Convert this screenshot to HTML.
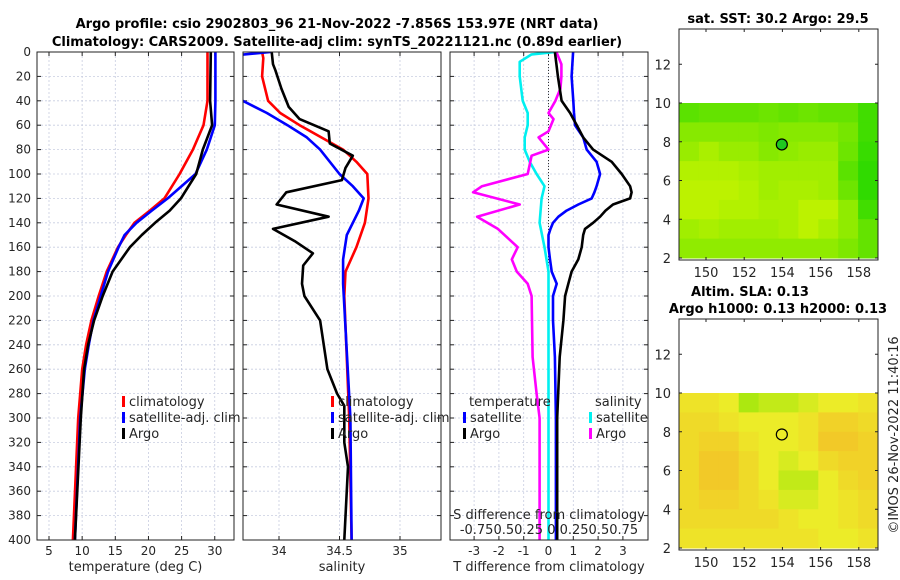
<!DOCTYPE html>
<html><head><meta charset="utf-8"><style>
html,body{margin:0;padding:0;background:#fff;width:900px;height:580px;overflow:hidden}
svg text{font-family:"DejaVu Sans","Liberation Sans",sans-serif;fill:#262626}
</style></head><body>
<svg id="fig" xmlns="http://www.w3.org/2000/svg" width="900" height="580" viewBox="0 0 900 580">
<text x="337" y="28" text-anchor="middle" font-size="13" font-weight="bold" style="fill:#000">Argo profile: csio 2902803_96 21-Nov-2022 -7.856S 153.97E (NRT data)</text>
<text x="337" y="46" text-anchor="middle" font-size="13" font-weight="bold" style="fill:#000">Climatology: CARS2009. Satellite-adj clim: synTS_20221121.nc (0.89d earlier)</text>
<text x="778" y="23" text-anchor="middle" font-size="13" font-weight="bold" style="fill:#000">sat. SST: 30.2 Argo: 29.5</text>
<text x="750" y="296" text-anchor="middle" font-size="13" font-weight="bold" style="fill:#000">Altim. SLA: 0.13</text>
<text x="778" y="313" text-anchor="middle" font-size="13" font-weight="bold" style="fill:#000">Argo h1000: 0.13 h2000: 0.13</text>
<text transform="translate(898,435) rotate(-90)" text-anchor="middle" font-size="13">©IMOS 26-Nov-2022 11:40:16</text>
</svg>
<script>
// ---- data ----
const depthT = [0,40,60,80,100,120,130,140,150,160,180,200,220,240,260,300,400];
const tempClim = [28.9,28.9,28.3,26.7,24.7,22.4,20.2,17.9,16.6,15.4,13.7,12.5,11.4,10.6,10.0,9.4,8.6];
const tempSat  = [30.1,30.1,30.0,28.8,27.1,22.9,20.5,18.2,16.4,15.5,13.9,12.8,11.7,11.0,10.4,9.7,8.9];
const tempArgo = [29.4,29.3,29.6,28.2,27.2,24.9,23.2,21.0,19.0,17.2,14.6,13.1,11.8,10.9,10.3,9.8,8.9];

const depthSC = [0,5,20,40,50,60,80,90,100,120,140,160,180,200,300,400];
const salClim = [33.86,33.87,33.86,33.91,34.01,34.17,34.53,34.64,34.73,34.74,34.71,34.64,34.55,34.54,34.58,34.60];
const depthSS = [0,4,38,40,50,60,70,80,100,110,120,130,150,170,190,300,400];
const salSat  = [33.93,33.5,33.5,33.70,33.90,34.07,34.23,34.34,34.50,34.61,34.70,34.66,34.56,34.53,34.53,34.59,34.60];
const depthSA = [0,10,15,30,45,55,65,75,85,95,105,115,125,135,145,155,165,175,190,200,220,260,280,290,320,340,400];
const salArgo = [33.94,33.95,33.97,34.02,34.08,34.17,34.41,34.42,34.61,34.55,34.52,34.06,33.98,34.41,33.95,34.13,34.28,34.20,34.19,34.21,34.34,34.40,34.48,34.54,34.54,34.57,34.54];

const depthD = [0,20,40,50,60,70,80,90,100,110,115,120,125,130,135,140,145,150,160,170,180,190,200,220,250,300,400];
const dTsat  = [0.99,0.93,1.0,1.03,1.07,1.4,1.54,1.94,2.08,1.94,1.85,1.74,1.2,0.73,0.4,0.18,0.08,0,0,0.06,0.13,0.33,0.18,0.18,0.26,0.3,0.3];
const dTargo = [0.26,0.38,0.53,0.87,1.14,1.4,1.8,2.55,2.95,3.29,3.35,3.29,2.6,2.3,2.08,1.8,1.47,1.4,1.34,1.2,0.93,0.8,0.67,0.6,0.45,0.35,0.35];
const depthDS = [0,2,8,20,40,50,60,70,80,90,100,110,120,140,160,180,200,300,400];
const dSsat  = [0.07,-0.17,-0.29,-0.29,-0.26,-0.21,-0.21,-0.24,-0.24,-0.19,-0.12,-0.04,-0.07,-0.09,-0.04,0,0,0,0];
const depthDA = [0,10,20,30,40,50,55,65,70,80,85,100,110,115,125,135,145,160,170,180,190,200,250,280,300,400];
const dSargo = [0.08,0.13,0.13,0.12,0.07,0,0.05,0,-0.1,0,-0.17,-0.21,-0.67,-0.76,-0.29,-0.72,-0.51,-0.31,-0.37,-0.32,-0.21,-0.17,-0.16,-0.12,-0.09,-0.09];

const depthTicks = [0,20,40,60,80,100,120,140,160,180,200,220,240,260,280,300,320,340,360,380,400];
const tempTicks = [5,10,15,20,25,30];
const salTicks = [34,34.5,35];
const salTickLabels = ["34","34.5","35"];
const diffTicks = [-3,-2,-1,0,1,2,3];
const sDiffLabels = "-0.750.50.25 0 0.250.50.75";
const latTicks = [2,4,6,8,10,12];
const lonTicks = [150,152,154,156,158];
const argoLon = 153.97, argoLat = 7.86;

const sstGrid = [
 [.65,.6,.6,.6,.55,.6,.55,.6,.6,.8],
 [.4,.4,.4,.4,.45,.4,.4,.4,.5,.8],
 [.3,.2,.3,.3,.4,.35,.3,.3,.55,.85],
 [.15,.15,.15,.2,.25,.25,.25,.25,.65,.9],
 [.1,.1,.1,.15,.25,.2,.2,.25,.55,.9],
 [.1,.1,.15,.15,.2,.2,.1,.1,.35,.8],
 [.25,.2,.25,.25,.25,.2,.1,.2,.35,.6],
 [.35,.35,.35,.35,.35,.35,.35,.35,.45,.6]];
const slaGrid = [
 [.6,.6,.5,.2,.3,.3,.4,.5,.5,.6],
 [.7,.7,.6,.5,.5,.5,.6,.8,.8,.7],
 [.7,.8,.8,.6,.5,.5,.6,.9,.9,.8],
 [.7,.9,.9,.7,.5,.4,.5,.7,.8,.8],
 [.7,.9,.9,.7,.5,.3,.3,.5,.7,.8],
 [.7,.8,.8,.7,.6,.4,.4,.5,.6,.7],
 [.7,.7,.7,.7,.7,.6,.5,.5,.6,.7],
 [.6,.6,.6,.6,.6,.6,.6,.5,.5,.6]];

// ---- helpers ----
const NS="http://www.w3.org/2000/svg";
const svg=document.getElementById('fig');
function mk(tag,attrs,parent){const e=document.createElementNS(NS,tag);for(const k in attrs)e.setAttribute(k,attrs[k]);(parent||svg).appendChild(e);return e;}
const Y0=52, Y1=540;
const yD=d=>Y0+(d/400)*(Y1-Y0);

function panel(name,x0,x1,xs,ticks,labels,xlabel){
  const g=mk('g',{});
  
  
  const clipId=name+'-clip';
  const cp=mk('clipPath',{id:clipId},g);mk('rect',{x:x0,y:Y0,width:x1-x0,height:Y1-Y0},cp);
  depthTicks.forEach(d=>{mk('line',{x1:x0,x2:x1,y1:yD(d),y2:yD(d),stroke:'#c8cde0','stroke-width':0.8,'stroke-dasharray':'2,2'},g);
    mk('line',{x1:x0,x2:x0+4,y1:yD(d),y2:yD(d),stroke:'#222'},g);mk('line',{x1:x1-4,x2:x1,y1:yD(d),y2:yD(d),stroke:'#222'},g);});
  ticks.forEach((t,i)=>{const x=xs(t);mk('line',{x1:x,x2:x,y1:Y0,y2:Y1,stroke:'#c8cde0','stroke-width':0.8,'stroke-dasharray':'2,2'},g);
    mk('line',{x1:x,x2:x,y1:Y1-4,y2:Y1,stroke:'#222'},g);mk('line',{x1:x,x2:x,y1:Y0,y2:Y0+4,stroke:'#222'},g);
    const tl=mk('text',{x:x,y:555,'text-anchor':'middle','font-size':12},g);tl.textContent=labels[i];
    
    });
  const xl=mk('text',{x:(x0+x1)/2,y:571,'text-anchor':'middle','font-size':13},g);xl.textContent=xlabel;
  
  
  return {g,clip:'url(#'+clipId+')',x0,x1};
}
function series(p,name,depths,vals,xs,color){
  const pts=depths.map((d,i)=>xs(vals[i]).toFixed(1)+','+yD(d).toFixed(1)).join(' ');
  const l=mk('polyline',{points:pts,fill:'none',stroke:color,'stroke-width':2.6,'stroke-linejoin':'round','clip-path':p.clip},p.g);
  
  
}
function frame(p){mk('rect',{x:p.x0,y:Y0,width:p.x1-p.x0,height:Y1-Y0,fill:'none',stroke:'#222','stroke-width':1},p.g);}
function legend(p,x,y,color,label){
  mk('rect',{x:x,y:y-10,width:3,height:11,fill:color},p.g);
  const t=mk('text',{x:x+7,y:y,'font-size':13},p.g);t.textContent=label;
  
  
}

// depth labels
depthTicks.forEach(d=>{const t=mk('text',{x:31,y:yD(d)+4,'text-anchor':'end','font-size':12});t.textContent=d;
  
  });

// panel 1
const xT=t=>49+(t-5)*6.63;
const p1=panel('temperature-panel',37,234,xT,tempTicks,tempTicks.map(String),'temperature (deg C)');
series(p1,'temp-climatology-line',depthT,tempClim,xT,'#ff0000');
series(p1,'temp-satellite-line',depthT,tempSat,xT,'#0000ff');
series(p1,'temp-argo-line',depthT,tempArgo,xT,'#000000');
frame(p1);
legend(p1,122,406,'#ff0000','climatology');legend(p1,122,422,'#0000ff','satellite-adj. clim');legend(p1,122,438,'#000','Argo');

// panel 2
const xS=s=>279+(s-34)*121;
const p2=panel('salinity-panel',243,441,xS,salTicks,salTickLabels,'salinity');
series(p2,'sal-climatology-line',depthSC,salClim,xS,'#ff0000');
series(p2,'sal-satellite-line',depthSS,salSat,xS,'#0000ff');
series(p2,'sal-argo-line',depthSA,salArgo,xS,'#000000');
frame(p2);
legend(p2,331,406,'#ff0000','climatology');legend(p2,331,422,'#0000ff','satellite-adj. clim');legend(p2,331,438,'#000','Argo');

// panel 3
const xDT=t=>548.5+t*24.8;
const xDS=s=>548.5+s*99.2;
const p3=panel('difference-panel',450,648,xDT,diffTicks,diffTicks.map(String),'T difference from climatology');
mk('line',{x1:xDT(0),x2:xDT(0),y1:Y0,y2:Y1,stroke:'#333','stroke-width':1,'stroke-dasharray':'1,2'},p3.g);
series(p3,'sdiff-satellite-line',depthDS,dSsat,xDS,'#00f0f0');
series(p3,'sdiff-argo-line',depthDA,dSargo,xDS,'#ff00ff');
series(p3,'tdiff-satellite-line',depthD,dTsat,xDT,'#0000ff');
series(p3,'tdiff-argo-line',depthD,dTargo,xDT,'#000000');
frame(p3);
{const t=mk('text',{x:469,y:406,'font-size':13},p3.g);t.textContent='temperature';
 const t2=mk('text',{x:595,y:406,'font-size':13},p3.g);t2.textContent='salinity';}
legend(p3,463,422,'#0000ff','satellite');legend(p3,463,438,'#000','Argo');
legend(p3,589,422,'#00f0f0','satellite');legend(p3,589,438,'#ff00ff','Argo');
{const t=mk('text',{x:549,y:519,'text-anchor':'middle','font-size':13},p3.g);t.textContent='S difference from climatology';
 
 
 const t2=mk('text',{x:549,y:534,'text-anchor':'middle','font-size':13},p3.g);t2.textContent=sDiffLabels;
 
 }

// maps
function lerp(a,b,t){return Math.round(a+(b-a)*t);}
function sstColor(v){return `rgb(${lerp(205,30,v)},${lerp(245,215,v)},0)`;}
function slaColor(v){ if(v<0.5){const t=v/0.5;return `rgb(${lerp(130,236,t)},${lerp(230,236,t)},${lerp(0,40,t)})`;}
  const t=(v-0.5)/0.5;return `rgb(${lerp(236,244,t)},${lerp(236,192,t)},${lerp(40,40,t)})`;}
function map(name,top,bottom,y10,grid,colorFn,fillDot){
  const g=mk('g',{});
  
  
  const x0=679,x1=878;
  const yL=lat=>bottom-2-(lat-2)*((bottom-2-y10)/8);
  const xL=lon=>706+(lon-150)*19.1;
  const lonW=(x1-x0)/grid[0].length;
  grid.forEach((row,r)=>row.forEach((v,c)=>{
    const cell=mk('rect',{x:x0+c*lonW,y:yL(10-r),width:lonW+0.5,height:yL(9-r)-yL(10-r)+0.5,fill:colorFn(v)},g);
    
    
  }));
  latTicks.forEach(l=>{const y=yL(l);mk('line',{x1:x0,x2:x0+3,y1:y,y2:y,stroke:'#222'},g);mk('line',{x1:x1-3,x2:x1,y1:y,y2:y,stroke:'#222'},g);
    const t=mk('text',{x:671,y:y+5,'text-anchor':'end','font-size':13},g);t.textContent=l;
    
    });
  lonTicks.forEach(l=>{const x=xL(l);mk('line',{x1:x,x2:x,y1:bottom-3,y2:bottom,stroke:'#222'},g);mk('line',{x1:x,x2:x,y1:top,y2:top+3,stroke:'#222'},g);
    const t=mk('text',{x:x,y:bottom+17,'text-anchor':'middle','font-size':13},g);t.textContent=l;
    
    });
  const c=mk('circle',{cx:xL(argoLon),cy:yL(argoLat),r:5.5,fill:fillDot,stroke:'#000','stroke-width':1.2},g);
  
  
  mk('rect',{x:x0,y:top,width:x1-x0,height:bottom-top,fill:'none',stroke:'#222'},g);
}
map('sst-map',29,260,103,sstGrid,sstColor,'#20c820');
map('sla-map',319,550,393,slaGrid,slaColor,'none');
</script>
</body></html>
